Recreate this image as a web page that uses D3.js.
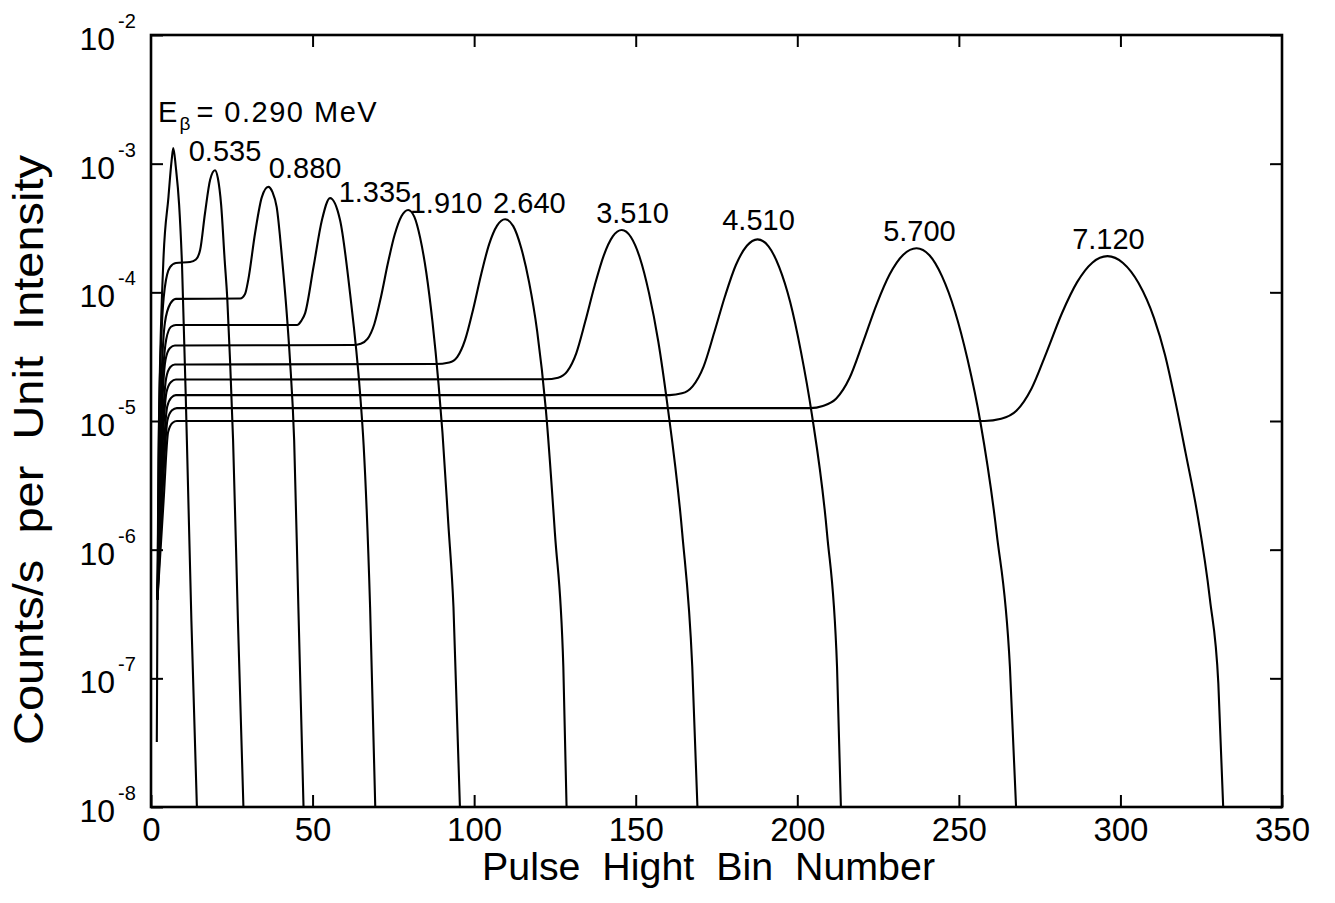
<!DOCTYPE html>
<html><head><meta charset="utf-8">
<script src="https://cdn.jsdelivr.net/npm/d3@7"></script>
<style>
html,body{margin:0;padding:0;background:#fff;}
svg{display:block;}
text{font-family:"Liberation Sans",Arial,Helvetica,sans-serif;fill:#000;}
</style>
</head><body>
<svg id="chart" width="1335" height="903"></svg>
<script>
// ---- data (bin number, counts/s per unit intensity) ----
const c0290 = [[1.8,3.2e-8],[2.0,4.1e-7],[2.3,5.0e-6],[3.8,1.69e-4],[5.4,5.5e-4],[6.4,1.07e-3],[6.9,1.32e-3],[7.7,9.3e-4],[8.7,4.8e-4],[9.6,1.63e-4],[11.1,7.1e-6],[12.5,2.8e-7],[14.2,1.0e-8]];
const c0535 = [[2.0,4.1e-7],[2.5,1.02e-5],[3.3,5.1e-5],[4.3,1.10e-4],[5.9,1.57e-4],[7.7,1.69e-4],[12.1,1.72e-4],[13.9,1.80e-4],[15.2,2.13e-4],[16.7,4.1e-4],[18.3,7.5e-4],[19.8,8.9e-4],[20.7,7.7e-4],[21.7,4.8e-4],[22.8,1.78e-4],[23.6,9.0e-5],[24.5,2.8e-5],[25.4,7.1e-6],[26.9,2.8e-7],[28.6,1.0e-8]];
const c0880 = [[2.0,4.1e-7],[2.8,8.5e-6],[4.3,5.8e-5],[5.9,8.1e-5],[7.7,8.9e-5],[27.6,8.95e-5],[29.1,9.7e-5],[30.1,1.25e-4],[32.2,2.88e-4],[34.3,5.5e-4],[36.3,6.6e-4],[37.6,6.0e-4],[38.9,4.6e-4],[40.6,1.78e-4],[42.0,6.9e-5],[43.0,3.0e-5],[44.3,7.1e-6],[45.6,3.6e-7],[47.2,1.0e-8]];
const c1335 = [[2.0,4.1e-7],[3.1,1.02e-5],[4.7,4.3e-5],[6.2,5.4e-5],[7.7,5.57e-5],[45.2,5.57e-5],[46.5,6.0e-5],[47.7,6.9e-5],[50.3,1.58e-4],[52.9,3.65e-4],[55.4,5.4e-4],[58.5,3.65e-4],[61.6,9.8e-5],[64.7,1.64e-5],[65.8,6.5e-6],[67.8,3.6e-7],[69.4,1.0e-8]];
const c1910 = [[2.0,4.1e-7],[3.1,7.1e-6],[4.5,3.0e-5],[5.9,3.7e-5],[7.4,3.86e-5],[62.5,3.9e-5],[64.9,3.99e-5],[67.0,4.34e-5],[69.1,5.65e-5],[71.2,9.28e-5],[73.3,1.68e-4],[75.4,2.80e-4],[77.5,3.90e-4],[79.6,4.37e-4],[81.5,3.86e-4],[83.3,2.65e-4],[85.2,1.42e-4],[87.1,5.91e-5],[89.0,1.92e-5],[90.2,8.1e-6],[92.0,1.6e-6],[93.6,3.6e-7],[95.6,1.0e-8]];
const c2640 = [[2.0,4.1e-7],[3.3,6.0e-6],[4.7,2.16e-5],[6.0,2.63e-5],[7.4,2.75e-5],[88.0,2.77e-5],[92.3,2.85e-5],[94.8,3.15e-5],[97.2,4.27e-5],[99.7,7.40e-5],[102.2,1.39e-4],[104.6,2.35e-4],[107.1,3.30e-4],[109.6,3.70e-4],[112.1,3.27e-4],[114.5,2.24e-4],[117.0,1.20e-4],[119.5,5.0e-5],[122.2,1.22e-5],[125.0,1.34e-6],[127.6,1.23e-7],[128.6,1.0e-8]];
const c3510 = [[2.0,4.1e-7],[3.4,5.0e-6],[4.8,1.68e-5],[6.2,2.01e-5],[7.7,2.10e-5],[122.0,2.11e-5],[126.0,2.17e-5],[128.8,2.43e-5],[131.6,3.36e-5],[134.4,5.95e-5],[137.3,1.13e-4],[140.1,1.93e-4],[142.9,2.72e-4],[145.7,3.05e-4],[148.5,2.69e-4],[151.3,1.85e-4],[154.1,9.9e-5],[157.0,4.13e-5],[159.8,1.34e-5],[164.4,1.34e-6],[167.5,1.23e-7],[169.1,1.0e-8]];
const c4510 = [[2.0,4.1e-7],[3.6,4.2e-6],[5.0,1.29e-5],[6.3,1.52e-5],[7.7,1.59e-5],[160.5,1.59e-5],[164.3,1.64e-5],[167.6,1.86e-5],[171.0,2.65e-5],[174.3,4.87e-5],[177.7,9.45e-5],[181.0,1.63e-4],[184.4,2.30e-4],[187.7,2.58e-4],[191.1,2.28e-4],[194.4,1.57e-4],[197.8,8.4e-5],[201.1,3.49e-5],[204.5,1.13e-5],[209.2,1.34e-6],[212.3,1.23e-7],[213.5,1.0e-8]];
const c5700 = [[2.0,4.1e-7],[3.7,3.2e-6],[5.1,1.02e-5],[6.5,1.21e-5],[8.0,1.26e-5],[204.0,1.26e-5],[207.9,1.31e-5],[212.0,1.49e-5],[216.2,2.17e-5],[220.3,4.07e-5],[224.5,8.0e-5],[228.6,1.38e-4],[232.8,1.96e-4],[236.9,2.20e-4],[240.9,1.94e-4],[244.8,1.33e-4],[248.8,7.1e-5],[252.7,3.0e-5],[256.7,9.7e-6],[261.7,1.34e-6],[265.8,1.23e-7],[267.7,1.0e-8]];
const c7120 = [[2.0,4.1e-7],[3.9,2.4e-6],[5.3,8.2e-6],[6.7,9.7e-6],[8.0,1.0e-5],[258.0,1.0e-5],[263.1,1.04e-5],[267.8,1.20e-5],[272.5,1.79e-5],[277.2,3.45e-5],[281.9,6.88e-5],[286.6,1.20e-4],[291.3,1.70e-4],[296.0,1.91e-4],[300.8,1.69e-4],[305.6,1.18e-4],[310.4,6.3e-5],[313.8,3.26e-5],[316.9,1.46e-5],[320.2,5.6e-6],[323.6,2.03e-6],[327.7,4.1e-7],[330.3,9.1e-8],[331.8,1.0e-8]];

const energies = ["0.290","0.535","0.880","1.335","1.910","2.640","3.510","4.510","5.700","7.120"];
// label anchor for each energy (data coordinates)
const labelBins = [2.2, 22.9, 47.7, 69.3, 91.3, 117.1, 149.0, 188.0, 237.8, 296.3];
const labelVals = [2.11e-3, 1.05e-3, 7.74e-4, 5.04e-4, 4.14e-4, 4.14e-4, 3.46e-4, 3.05e-4, 2.51e-4, 2.17e-4];

const xTicks = [0,50,100,150,200,250,300,350];
const yExponents = [-8,-7,-6,-5,-4,-3,-2];
const xTitle = "Pulse\u00A0\u00A0Hight\u00A0\u00A0Bin\u00A0\u00A0Number";
const yTitle = "Counts/s\u00A0\u00A0per\u00A0\u00A0Unit\u00A0\u00A0Intensity";

const curves = [c0290,c0535,c0880,c1335,c1910,c2640,c3510,c4510,c5700,c7120];

// ---- drawing ----
const svg = d3.select("#chart");
const x = d3.scaleLinear().domain([0,350]).range([151,1282]);
const y = d3.scaleLog().domain([1e-8,1e-2]).range([807,35]);
const FONT = '"Liberation Sans",Arial,Helvetica,sans-serif';

svg.append("rect").attr("width",1335).attr("height",903).attr("fill","#fff");

svg.append("clipPath").attr("id","plot").append("rect")
  .attr("x",x(0)).attr("y",y(1e-2)).attr("width",x(350)-x(0)).attr("height",y(1e-8)-y(1e-2));

const line = d3.line().x(d=>x(d[0])).y(d=>y(d[1])).curve(d3.curveMonotoneX);
svg.append("g").attr("clip-path","url(#plot)")
  .selectAll("path").data(curves).join("path")
  .attr("d",line).attr("fill","none").attr("stroke","#000")
  .attr("stroke-width",2.1).attr("stroke-linejoin","round");

function styleAxis(g){
  g.select(".domain").remove();
  g.selectAll(".tick line").attr("stroke","#000").attr("stroke-width",2);
  g.attr("font-family",FONT);
}
// bottom axis with labels
svg.append("g").attr("transform",`translate(0,${y(1e-8)})`)
  .call(d3.axisBottom(x).tickValues(xTicks).tickSize(-12).tickPadding(11).tickFormat(d3.format("d")))
  .call(styleAxis)
  .attr("font-size",33)
  .call(g=>g.selectAll("text").attr("fill","#000"));
// top axis
svg.append("g").attr("transform",`translate(0,${y(1e-2)})`)
  .call(d3.axisTop(x).tickValues(xTicks.slice(1,-1)).tickSize(-12).tickFormat(""))
  .call(styleAxis);
// left / right axes
const yTickVals = yExponents.map(e=>Math.pow(10,e));
svg.append("g").attr("transform",`translate(${x(0)},0)`)
  .call(d3.axisLeft(y).tickValues(yTickVals).tickSize(-12).tickFormat(""))
  .call(styleAxis);
svg.append("g").attr("transform",`translate(${x(350)},0)`)
  .call(d3.axisRight(y).tickValues(yTickVals).tickSize(-12).tickFormat(""))
  .call(styleAxis);

// y tick labels as 10^n
const yl = svg.append("g");
yExponents.forEach(e=>{
  const ty = y(Math.pow(10,e));
  yl.append("text").attr("x",x(0)-36).attr("y",ty+15).attr("text-anchor","end")
    .attr("font-size",32).text("10");
  yl.append("text").attr("x",x(0)-33).attr("y",ty-7).attr("text-anchor","start")
    .attr("font-size",20).text("-"+Math.abs(e));
});

// frame
svg.append("rect").attr("x",x(0)).attr("y",y(1e-2))
  .attr("width",x(350)-x(0)).attr("height",y(1e-8)-y(1e-2))
  .attr("fill","none").attr("stroke","#000").attr("stroke-width",2.6);

// energy labels
const lab = svg.append("g").attr("font-size",29);
energies.forEach((s,i)=>{
  const lx = x(labelBins[i]), ly = y(labelVals[i]);
  if(i===0){
    const t = lab.append("text").attr("x",lx).attr("y",ly);
    t.append("tspan").text("E");
    t.append("tspan").attr("font-size",19).attr("dx",2).attr("dy",8).text("β");
    t.append("tspan").attr("dy",-8).attr("dx",6).attr("letter-spacing",1.5).text("= "+s+" MeV");
  } else {
    lab.append("text").attr("x",lx).attr("y",ly).attr("text-anchor","middle").text(s);
  }
});

// axis titles
svg.append("text").attr("x",708.5).attr("y",880).attr("text-anchor","middle")
  .attr("font-size",38).attr("textLength",453).attr("lengthAdjust","spacingAndGlyphs").text(xTitle);
svg.append("text").attr("transform","translate(43,450) rotate(-90)").attr("text-anchor","middle")
  .attr("font-size",43).attr("textLength",590).attr("lengthAdjust","spacingAndGlyphs").text(yTitle);
</script>
</body></html>
